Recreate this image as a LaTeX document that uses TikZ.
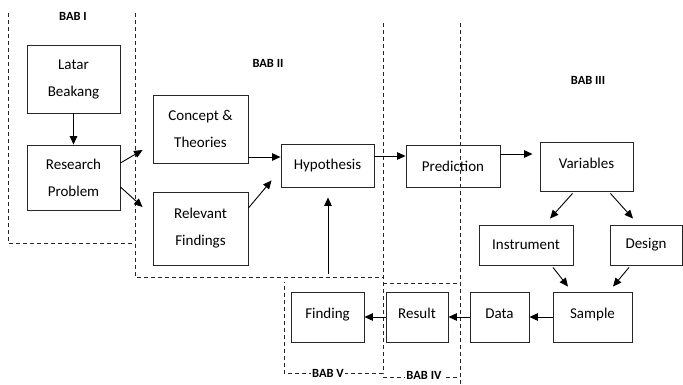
\documentclass[tikz,border=0pt]{standalone}
\usepackage{fontspec}
\setmainfont{Carlito}
\usetikzlibrary{arrows.meta}
\begin{document}
\begin{tikzpicture}[x=1pt,y=-1pt,
  box/.style={draw=black!85,line width=0.9pt,rectangle,inner sep=2pt,align=center,
    font=\fontsize{15}{27}\selectfont},
  low/.style={text height=11pt,text depth=8pt},
  arr/.style={line width=0.9pt,-{Triangle[length=8.5pt,width=7.5pt]}},
  region/.style={line width=0.8pt,dash pattern=on 4pt off 3pt,black!85},
  bab/.style={font=\fontsize{12.5}{14}\selectfont\bfseries,inner sep=1pt}]
\useasboundingbox (0,0) rectangle (683,385);
% regions
\draw[region] (8,13) -- (8,243) -- (135,243);
\draw[region] (135,13) -- (135,277) -- (383,277);
\draw[region] (383,23) -- (383,373) -- (284,373) -- (284,282);
\draw[region] (460,23) -- (460,385);
\draw[region] (383,283) -- (460,283);
\draw[region] (383,377) -- (460,377);
\node[bab] (b1) at (73,16) {BAB I};
\node[bab] (b2) at (268,63) {BAB II};
\node[bab] (b3) at (588,80) {BAB III};
\node[bab,fill=white] (b5) at (328,373) {BAB V};
\node[bab,fill=white] (b4) at (424,375) {BAB IV};
% boxes
\node[box,minimum width=93pt,minimum height=68pt] (latar) at (73.5,79) {Latar\\Beakang};
\node[box,minimum width=93pt,minimum height=65pt] (research) at (73.5,177.5) {Research\\Problem};
\node[box,minimum width=95pt,minimum height=68pt] (concept) at (200.5,129) {Concept \&\\Theories};
\node[box,minimum width=95pt,minimum height=73pt] (relevant) at (200.5,228.5) {Relevant\\Findings};
\node[box,minimum width=93pt,minimum height=43pt] (hyp) at (327.5,165.5) {Hypothesis};
\node[box,minimum width=94pt,minimum height=42pt] (pred) at (453,166) {Prediction};
\node[box,low,minimum width=93pt,minimum height=49pt] (var) at (586.5,166.5) {Variables};
\node[box,minimum width=94pt,minimum height=40pt] (instr) at (526,245) {Instrument};
\node[box,minimum width=72pt,minimum height=40pt] (design) at (646,245) {Design};
\node[box,low,minimum width=79pt,minimum height=50pt] (sample) at (592.5,317) {Sample};
\node[box,low,minimum width=59pt,minimum height=50pt] (data) at (499.5,317) {Data};
\node[box,low,minimum width=62pt,minimum height=50pt] (result) at (417,317) {Result};
\node[box,low,minimum width=73pt,minimum height=50pt] (finding) at (327.5,317) {Finding};
\coordinate (up) at (328,274);
% arrows
\draw[arr] (latar) -- (research);
\draw[arr] ([yshift=14.5pt]research.east) -- ([xshift=-10pt,yshift=-21pt]concept.west);
\draw[arr] ([yshift=-9.5pt]research.east) -- ([xshift=-10pt,yshift=21.5pt]relevant.west);
\draw[arr] ([yshift=-28pt]concept.east) -- ([yshift=-28pt]hyp.west |- concept.east);
\draw[arr] ([yshift=20.5pt]relevant.east) -- ([xshift=-9pt,yshift=7pt]hyp.south west);
\draw[arr] (up) -- ([yshift=-10pt]up |- hyp.south);
\draw[arr] ([yshift=9.5pt]hyp.east) -- ([yshift=9.5pt]pred.west |- hyp.east);
\draw[arr] ([yshift=12pt]pred.east) -- ([xshift=-7pt,yshift=12pt]var.west |- pred.east);
\draw[arr] ([xshift=33pt,yshift=-2pt]var.south west) -- ([xshift=24pt,yshift=6pt]instr.north);
\draw[arr] ([xshift=-23pt,yshift=-2pt]var.south east) -- ([xshift=-13pt,yshift=6pt]design.north);
\draw[arr] ([xshift=27pt,yshift=-2pt]instr.south) -- ([xshift=-24.5pt,yshift=5pt]sample.north);
\draw[arr] ([xshift=-17pt,yshift=-2pt]design.south) -- ([xshift=20.5pt,yshift=5pt]sample.north);
\draw[arr] (sample) -- (data);
\draw[arr] (data) -- (result);
\draw[arr] (result) -- (finding);
\end{tikzpicture}
\end{document}
